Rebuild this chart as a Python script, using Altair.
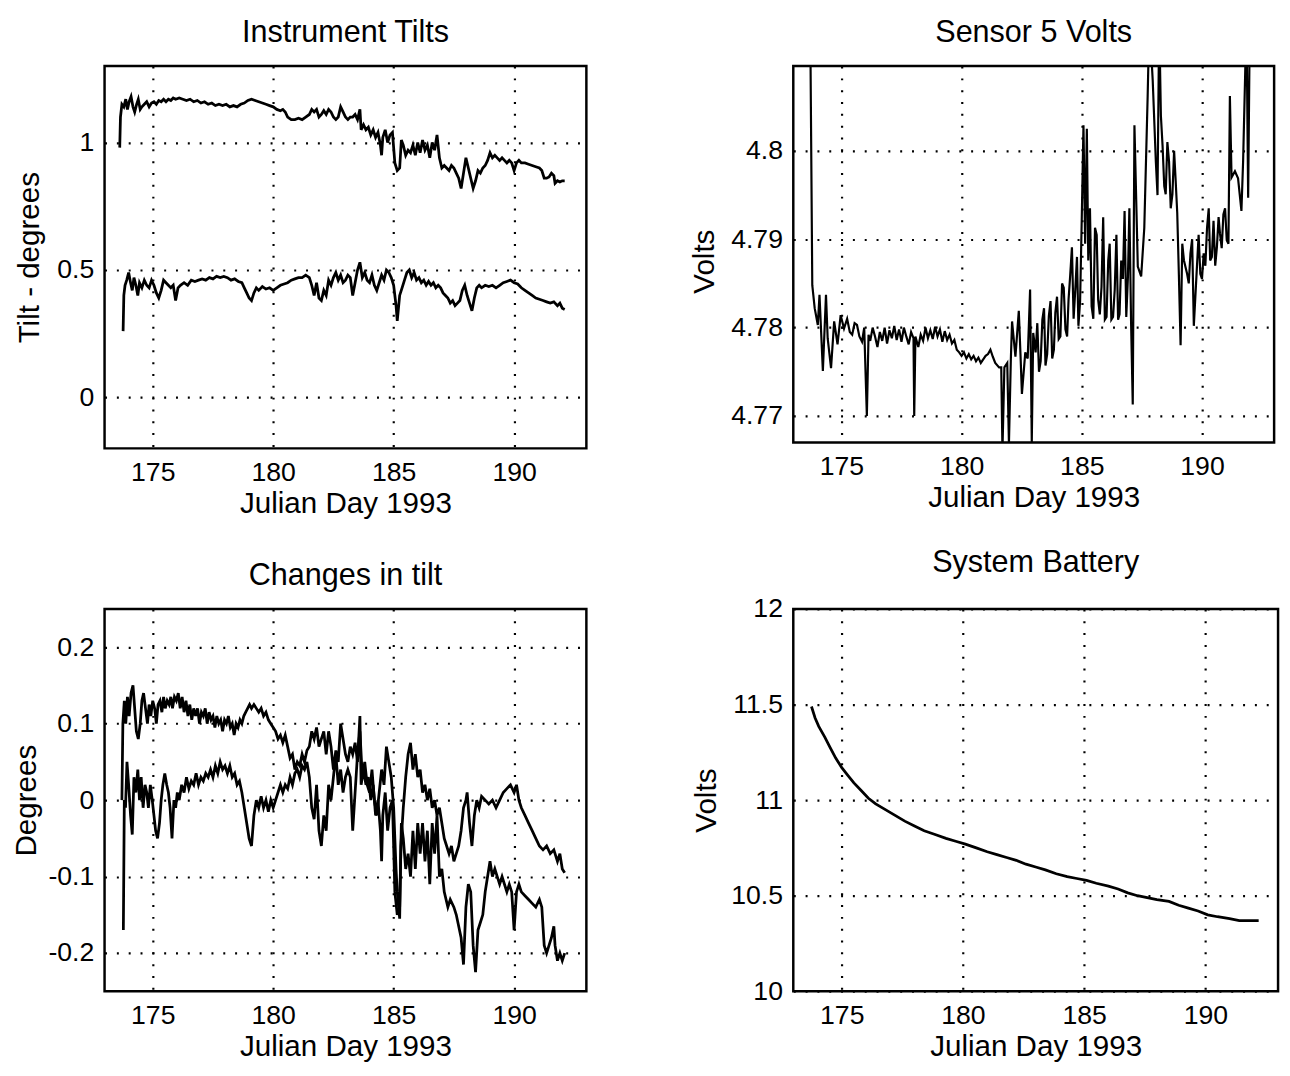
import altair as alt
import pandas as pd

FONT = "Liberation Sans"
X_TICKS = [175, 180, 185, 190]
X_TITLE = "Julian Day 1993"

# Instrument Tilts: upper and lower traces (day, degrees)
TILT_UPPER = [
    (173.63, 0.98), (173.66, 1.10), (173.72, 1.15), (173.80, 1.14), (173.88, 1.17), (173.95, 1.13),
    (174.02, 1.16), (174.10, 1.18), (174.18, 1.14), (174.25, 1.12), (174.33, 1.15), (174.40, 1.17),
    (174.48, 1.13), (174.55, 1.14), (174.65, 1.15), (174.75, 1.16), (174.85, 1.14), (174.95, 1.155),
    (175.05, 1.16), (175.15, 1.15), (175.25, 1.165), (175.35, 1.16), (175.45, 1.17), (175.55, 1.16),
    (175.65, 1.17), (175.75, 1.165), (175.85, 1.175), (175.95, 1.17), (176.10, 1.175), (176.25, 1.17),
    (176.40, 1.165), (176.55, 1.17), (176.70, 1.16), (176.85, 1.165), (177.00, 1.155), (177.15, 1.16),
    (177.30, 1.15), (177.45, 1.155), (177.60, 1.145), (177.75, 1.15), (177.90, 1.145), (178.05, 1.15),
    (178.20, 1.14), (178.35, 1.145), (178.50, 1.14), (178.65, 1.15), (178.80, 1.155), (178.95, 1.165),
    (179.10, 1.17), (179.25, 1.165), (179.40, 1.16), (179.55, 1.155), (179.70, 1.15), (179.85, 1.145),
    (180.00, 1.14), (180.15, 1.13), (180.30, 1.125), (180.40, 1.13), (180.50, 1.12), (180.60, 1.10),
    (180.75, 1.09), (180.90, 1.09), (181.05, 1.095), (181.20, 1.09), (181.35, 1.10), (181.50, 1.11),
    (181.60, 1.13), (181.70, 1.12), (181.80, 1.13), (181.90, 1.10), (182.00, 1.11), (182.10, 1.125),
    (182.20, 1.11), (182.30, 1.13), (182.40, 1.12), (182.50, 1.10), (182.60, 1.09), (182.70, 1.10),
    (182.80, 1.14), (182.90, 1.12), (183.00, 1.10), (183.10, 1.09), (183.20, 1.10), (183.30, 1.10),
    (183.40, 1.11), (183.50, 1.09), (183.60, 1.13), (183.65, 1.05), (183.75, 1.07), (183.85, 1.05),
    (183.95, 1.06), (184.05, 1.03), (184.15, 1.05), (184.25, 1.02), (184.35, 1.04), (184.45, 0.99),
    (184.50, 0.95), (184.55, 1.02), (184.65, 1.05), (184.75, 1.00), (184.85, 1.03), (184.95, 1.04),
    (185.05, 0.92), (185.15, 0.89), (185.25, 0.90), (185.32, 1.01), (185.40, 0.99), (185.50, 0.95),
    (185.60, 0.97), (185.70, 0.96), (185.80, 0.99), (185.90, 0.95), (186.00, 1.00), (186.10, 0.96),
    (186.20, 1.01), (186.30, 0.97), (186.40, 0.99), (186.50, 0.94), (186.60, 1.00), (186.70, 0.97),
    (186.80, 1.03), (186.90, 0.94), (187.00, 0.90), (187.10, 0.91), (187.20, 0.90), (187.30, 0.89),
    (187.40, 0.91), (187.50, 0.90), (187.60, 0.88), (187.70, 0.86), (187.80, 0.82), (187.90, 0.88),
    (188.00, 0.94), (188.10, 0.90), (188.20, 0.86), (188.30, 0.82), (188.40, 0.85), (188.50, 0.89),
    (188.60, 0.88), (188.70, 0.90), (188.80, 0.91), (188.90, 0.93), (189.00, 0.96), (189.10, 0.94),
    (189.20, 0.95), (189.30, 0.94), (189.40, 0.93), (189.50, 0.94), (189.60, 0.93), (189.70, 0.92),
    (189.80, 0.93), (189.90, 0.92), (190.00, 0.89), (190.10, 0.92), (190.20, 0.93), (190.30, 0.92),
    (190.45, 0.92), (190.60, 0.915), (190.75, 0.91), (190.90, 0.905), (191.05, 0.90), (191.15, 0.89),
    (191.25, 0.86), (191.35, 0.86), (191.45, 0.865), (191.55, 0.88), (191.65, 0.87), (191.70, 0.84),
    (191.80, 0.85), (191.90, 0.845), (192.00, 0.85), (192.10, 0.85),
]

TILT_LOWER = [
    (173.77, 0.26), (173.80, 0.40), (173.85, 0.44), (173.92, 0.46), (174.00, 0.49), (174.08, 0.45),
    (174.15, 0.42), (174.22, 0.47), (174.30, 0.44), (174.38, 0.40), (174.45, 0.45), (174.55, 0.43),
    (174.65, 0.46), (174.75, 0.44), (174.85, 0.43), (174.95, 0.46), (175.05, 0.44), (175.15, 0.41),
    (175.25, 0.39), (175.35, 0.42), (175.45, 0.46), (175.55, 0.45), (175.65, 0.44), (175.75, 0.43),
    (175.85, 0.44), (175.95, 0.38), (176.05, 0.43), (176.15, 0.44), (176.30, 0.45), (176.45, 0.44),
    (176.60, 0.46), (176.75, 0.455), (176.90, 0.46), (177.05, 0.465), (177.20, 0.46), (177.35, 0.47),
    (177.50, 0.465), (177.65, 0.475), (177.80, 0.47), (177.95, 0.475), (178.10, 0.47), (178.25, 0.46),
    (178.40, 0.465), (178.55, 0.455), (178.70, 0.45), (178.80, 0.43), (178.90, 0.41), (179.00, 0.39),
    (179.10, 0.38), (179.20, 0.41), (179.30, 0.43), (179.40, 0.42), (179.55, 0.435), (179.70, 0.425),
    (179.85, 0.43), (180.00, 0.42), (180.15, 0.43), (180.30, 0.44), (180.45, 0.445), (180.60, 0.45),
    (180.75, 0.46), (180.90, 0.465), (181.05, 0.47), (181.20, 0.47), (181.35, 0.48), (181.50, 0.47),
    (181.60, 0.44), (181.70, 0.40), (181.80, 0.45), (181.90, 0.39), (182.00, 0.38), (182.10, 0.42),
    (182.20, 0.40), (182.30, 0.46), (182.40, 0.44), (182.50, 0.47), (182.60, 0.49), (182.70, 0.46),
    (182.80, 0.48), (182.90, 0.45), (183.00, 0.46), (183.10, 0.48), (183.20, 0.47), (183.30, 0.40),
    (183.40, 0.45), (183.50, 0.50), (183.60, 0.53), (183.70, 0.47), (183.80, 0.49), (183.90, 0.46),
    (184.00, 0.45), (184.10, 0.48), (184.20, 0.44), (184.30, 0.42), (184.40, 0.45), (184.50, 0.48),
    (184.60, 0.46), (184.70, 0.50), (184.80, 0.49), (184.90, 0.47), (185.00, 0.44), (185.10, 0.36),
    (185.15, 0.30), (185.25, 0.40), (185.35, 0.43), (185.45, 0.46), (185.55, 0.49), (185.65, 0.50),
    (185.75, 0.47), (185.85, 0.49), (185.95, 0.46), (186.05, 0.47), (186.15, 0.45), (186.25, 0.46),
    (186.35, 0.44), (186.45, 0.455), (186.55, 0.44), (186.65, 0.45), (186.75, 0.43), (186.85, 0.44),
    (186.95, 0.43), (187.05, 0.41), (187.15, 0.40), (187.25, 0.39), (187.35, 0.37), (187.45, 0.38),
    (187.55, 0.36), (187.65, 0.37), (187.75, 0.38), (187.85, 0.42), (187.95, 0.44), (188.05, 0.40),
    (188.15, 0.37), (188.25, 0.34), (188.35, 0.39), (188.45, 0.43), (188.55, 0.44), (188.65, 0.43),
    (188.80, 0.44), (188.95, 0.435), (189.10, 0.44), (189.25, 0.43), (189.40, 0.44), (189.55, 0.45),
    (189.70, 0.455), (189.85, 0.46), (190.00, 0.45), (190.15, 0.445), (190.30, 0.43), (190.45, 0.42),
    (190.60, 0.41), (190.75, 0.40), (190.90, 0.39), (191.05, 0.385), (191.20, 0.38), (191.35, 0.375),
    (191.50, 0.37), (191.65, 0.375), (191.80, 0.36), (191.90, 0.37), (192.00, 0.35), (192.10, 0.345),
]

# Sensor 5 Volts (day, volts)
SENSOR5 = [
    (173.66, 4.83), (173.79, 4.7848), (173.89, 4.7822), (174.02, 4.7803), (174.09, 4.7837),
    (174.23, 4.7751), (174.36, 4.7837), (174.43, 4.7788), (174.57, 4.7754), (174.70, 4.7807),
    (174.84, 4.7781), (174.97, 4.7814), (175.11, 4.7799), (175.24, 4.7810), (175.35, 4.7795),
    (175.45, 4.7792), (175.55, 4.7805), (175.65, 4.7803), (175.75, 4.7790), (175.86, 4.7784),
    (175.95, 4.7800), (176.06, 4.7700), (176.13, 4.7792), (176.20, 4.7785), (176.30, 4.7800),
    (176.40, 4.7790), (176.50, 4.7778), (176.60, 4.7795), (176.70, 4.7785), (176.80, 4.7800),
    (176.90, 4.7782), (177.00, 4.7797), (177.10, 4.7788), (177.20, 4.7802), (177.30, 4.7786),
    (177.40, 4.7798), (177.50, 4.7784), (177.60, 4.7800), (177.70, 4.7790), (177.80, 4.7781),
    (177.90, 4.7795), (178.00, 4.7788), (178.03, 4.7700), (178.08, 4.7790), (178.20, 4.7778),
    (178.30, 4.7792), (178.40, 4.7785), (178.50, 4.7800), (178.60, 4.7788), (178.70, 4.7797),
    (178.80, 4.7787), (178.90, 4.7801), (179.00, 4.7790), (179.10, 4.7798), (179.20, 4.7784),
    (179.30, 4.7796), (179.40, 4.7786), (179.50, 4.7792), (179.60, 4.7782), (179.70, 4.7786),
    (179.80, 4.7775), (179.90, 4.7772), (180.00, 4.7768), (180.10, 4.7772), (180.20, 4.7765),
    (180.30, 4.7770), (180.40, 4.7764), (180.50, 4.7768), (180.60, 4.7762), (180.70, 4.7766),
    (180.80, 4.7760), (180.90, 4.7764), (181.00, 4.7768), (181.10, 4.7770), (181.20, 4.7775),
    (181.30, 4.7767), (181.40, 4.7760), (181.56, 4.7755), (181.65, 4.7755), (181.70, 4.7660),
    (181.78, 4.7755), (181.90, 4.7760), (181.97, 4.7668), (182.05, 4.7765), (182.10, 4.7807),
    (182.24, 4.7767), (182.38, 4.7819), (182.45, 4.7770), (182.51, 4.7725), (182.65, 4.7772),
    (182.75, 4.7765), (182.85, 4.7843), (182.92, 4.7670), (182.98, 4.7794), (183.08, 4.7772),
    (183.15, 4.7805), (183.22, 4.7750), (183.29, 4.7762), (183.36, 4.7809), (183.43, 4.7822),
    (183.49, 4.7757), (183.56, 4.7770), (183.63, 4.7813), (183.70, 4.7830), (183.77, 4.7765),
    (183.84, 4.7775), (183.90, 4.7817), (183.97, 4.7835), (184.04, 4.7787), (184.11, 4.7790),
    (184.18, 4.7850), (184.25, 4.7845), (184.32, 4.7798), (184.39, 4.7790), (184.45, 4.7832),
    (184.52, 4.7860), (184.59, 4.7891), (184.66, 4.7810), (184.73, 4.7843), (184.80, 4.7880),
    (184.86, 4.7802), (184.93, 4.7830), (185.00, 4.7925), (185.07, 4.8029), (185.14, 4.7895),
    (185.21, 4.8025), (185.27, 4.7876), (185.34, 4.7935), (185.41, 4.7824), (185.48, 4.7810),
    (185.55, 4.7913), (185.62, 4.7905), (185.68, 4.7832), (185.75, 4.7815), (185.82, 4.7846),
    (185.89, 4.7925), (185.96, 4.7809), (186.03, 4.7812), (186.10, 4.7876), (186.16, 4.7895),
    (186.23, 4.7809), (186.30, 4.7812), (186.37, 4.7843), (186.44, 4.7905), (186.51, 4.7809),
    (186.57, 4.7815), (186.64, 4.7876), (186.71, 4.7855), (186.78, 4.7932), (186.85, 4.7812),
    (186.92, 4.7858), (186.98, 4.7935), (187.05, 4.7806), (187.12, 4.7713), (187.19, 4.8029),
    (187.33, 4.7869), (187.47, 4.7858), (187.60, 4.7913), (187.74, 4.8062), (187.81, 4.8150),
    (187.95, 4.8080), (188.08, 4.7988), (188.15, 4.7950), (188.22, 4.8150), (188.29, 4.8040),
    (188.36, 4.8006), (188.43, 4.7960), (188.49, 4.7951), (188.56, 4.8010), (188.63, 4.7988),
    (188.70, 4.7935), (188.77, 4.7951), (188.84, 4.8000), (188.90, 4.7969), (188.97, 4.7930),
    (189.04, 4.7858), (189.11, 4.7780), (189.18, 4.7895), (189.25, 4.7876), (189.38, 4.7861),
    (189.45, 4.7850), (189.52, 4.7884), (189.59, 4.7900), (189.66, 4.7802), (189.79, 4.7869),
    (189.86, 4.7905), (189.93, 4.7861), (190.00, 4.7855), (190.07, 4.7884), (190.14, 4.7870),
    (190.21, 4.7913), (190.28, 4.7935), (190.34, 4.7876), (190.41, 4.7880), (190.48, 4.7921),
    (190.55, 4.7870), (190.62, 4.7891), (190.69, 4.7925), (190.75, 4.7906), (190.82, 4.7890),
    (190.89, 4.7928), (190.96, 4.7935), (191.03, 4.7899), (191.10, 4.7895), (191.16, 4.8062),
    (191.23, 4.7970), (191.37, 4.7977), (191.50, 4.7969), (191.64, 4.7932), (191.71, 4.7988),
    (191.85, 4.8150), (191.92, 4.7947), (191.99, 4.8150),
]

# Changes in tilt (day, degrees)
CHANGE_A = [
    (173.72, 0.0), (173.76, 0.10), (173.82, 0.13), (173.88, 0.10), (173.95, 0.135), (174.02, 0.11),
    (174.10, 0.14), (174.18, 0.15), (174.25, 0.12), (174.32, 0.09), (174.40, 0.08), (174.48, 0.10),
    (174.55, 0.13), (174.62, 0.14), (174.70, 0.12), (174.78, 0.10), (174.85, 0.125), (174.92, 0.11),
    (175.00, 0.13), (175.08, 0.12), (175.15, 0.10), (175.22, 0.125), (175.30, 0.13), (175.38, 0.115),
    (175.45, 0.135), (175.52, 0.12), (175.60, 0.13), (175.68, 0.125), (175.75, 0.135), (175.82, 0.12),
    (175.90, 0.135), (175.98, 0.13), (176.06, 0.14), (176.14, 0.12), (176.22, 0.135), (176.30, 0.115),
    (176.38, 0.13), (176.46, 0.11), (176.54, 0.125), (176.62, 0.105), (176.70, 0.12), (176.78, 0.11),
    (176.86, 0.12), (176.94, 0.10), (177.02, 0.115), (177.10, 0.11), (177.18, 0.12), (177.26, 0.10),
    (177.34, 0.115), (177.42, 0.105), (177.50, 0.11), (177.58, 0.095), (177.66, 0.11), (177.74, 0.10),
    (177.82, 0.105), (177.90, 0.09), (177.98, 0.105), (178.06, 0.10), (178.14, 0.11), (178.22, 0.095),
    (178.30, 0.10), (178.38, 0.085), (178.46, 0.10), (178.54, 0.095), (178.62, 0.105), (178.70, 0.10),
    (178.78, 0.11), (178.86, 0.115), (178.94, 0.12), (179.02, 0.125), (179.10, 0.12), (179.20, 0.125),
    (179.30, 0.12), (179.40, 0.115), (179.50, 0.12), (179.60, 0.11), (179.70, 0.115), (179.80, 0.105),
    (179.90, 0.10), (180.00, 0.095), (180.10, 0.09), (180.20, 0.08), (180.30, 0.085), (180.40, 0.075),
    (180.50, 0.085), (180.60, 0.07), (180.70, 0.055), (180.80, 0.06), (180.90, 0.04), (181.00, 0.05),
    (181.10, 0.045), (181.20, 0.06), (181.30, 0.05), (181.40, 0.065), (181.50, 0.07), (181.60, 0.09),
    (181.70, 0.08), (181.80, 0.095), (181.90, 0.07), (182.00, 0.08), (182.10, 0.09), (182.20, 0.06),
    (182.30, 0.09), (182.40, 0.07), (182.50, 0.04), (182.60, 0.065), (182.70, 0.05), (182.80, 0.10),
    (182.90, 0.08), (183.00, 0.06), (183.10, 0.05), (183.20, 0.07), (183.30, 0.06), (183.40, 0.075),
    (183.50, 0.05), (183.60, 0.11), (183.65, 0.02), (183.75, 0.04), (183.85, 0.02), (183.95, 0.03),
    (184.05, 0.0), (184.15, 0.02), (184.25, -0.02), (184.35, 0.0), (184.45, -0.04), (184.50, -0.08),
    (184.55, -0.02), (184.65, 0.01), (184.75, -0.04), (184.85, -0.01), (184.95, 0.0), (185.05, -0.12),
    (185.15, -0.15), (185.25, -0.14), (185.32, -0.03), (185.40, -0.05), (185.50, -0.09), (185.60, -0.07),
    (185.70, -0.10), (185.80, -0.04), (185.90, -0.09), (186.00, -0.03), (186.10, -0.07), (186.20, -0.03),
    (186.30, -0.08), (186.40, -0.04), (186.50, -0.11), (186.60, -0.03), (186.70, -0.07), (186.80, -0.02),
    (186.90, -0.10), (187.00, -0.09), (187.10, -0.12), (187.25, -0.14), (187.35, -0.13), (187.50, -0.14),
    (187.60, -0.15), (187.70, -0.165), (187.80, -0.18), (187.90, -0.215), (188.00, -0.14), (188.10, -0.11),
    (188.20, -0.12), (188.30, -0.19), (188.40, -0.225), (188.50, -0.17), (188.60, -0.16), (188.70, -0.15),
    (188.80, -0.12), (188.90, -0.10), (189.00, -0.08), (189.10, -0.10), (189.20, -0.09), (189.30, -0.10),
    (189.40, -0.11), (189.50, -0.10), (189.60, -0.11), (189.70, -0.12), (189.80, -0.11), (189.90, -0.12),
    (190.00, -0.17), (190.10, -0.12), (190.20, -0.11), (190.30, -0.12), (190.45, -0.125), (190.60, -0.13),
    (190.75, -0.135), (190.90, -0.14), (191.05, -0.13), (191.15, -0.14), (191.25, -0.19), (191.35, -0.20),
    (191.45, -0.19), (191.55, -0.18), (191.65, -0.165), (191.70, -0.19), (191.80, -0.21), (191.90, -0.20),
    (192.00, -0.21), (192.10, -0.20),
]

CHANGE_B = [
    (173.78, -0.17), (173.82, 0.0), (173.87, -0.01), (173.93, 0.05), (174.00, 0.02), (174.08, -0.02),
    (174.15, -0.045), (174.22, 0.03), (174.30, 0.01), (174.38, 0.04), (174.45, 0.0), (174.52, 0.03),
    (174.60, -0.01), (174.68, 0.02), (174.75, 0.01), (174.82, -0.01), (174.90, 0.02), (174.98, 0.0),
    (175.05, -0.02), (175.12, -0.04), (175.20, -0.05), (175.28, -0.03), (175.35, 0.0), (175.42, 0.02),
    (175.50, 0.035), (175.58, 0.02), (175.65, 0.01), (175.72, -0.01), (175.80, -0.05), (175.88, 0.0),
    (175.95, -0.01), (176.02, 0.01), (176.10, 0.0), (176.20, 0.02), (176.30, 0.01), (176.40, 0.03),
    (176.50, 0.015), (176.60, 0.025), (176.70, 0.02), (176.80, 0.035), (176.90, 0.02), (177.00, 0.03),
    (177.10, 0.025), (177.20, 0.035), (177.30, 0.03), (177.40, 0.04), (177.50, 0.03), (177.60, 0.045),
    (177.70, 0.035), (177.80, 0.05), (177.90, 0.04), (178.00, 0.045), (178.10, 0.035), (178.20, 0.045),
    (178.30, 0.03), (178.40, 0.035), (178.50, 0.02), (178.60, 0.025), (178.70, 0.01), (178.80, -0.01),
    (178.90, -0.03), (179.00, -0.05), (179.10, -0.06), (179.20, -0.02), (179.30, 0.0), (179.40, -0.01),
    (179.50, 0.005), (179.60, -0.01), (179.70, 0.0), (179.80, -0.015), (179.90, 0.0), (180.00, -0.01),
    (180.10, 0.0), (180.20, 0.01), (180.30, 0.02), (180.40, 0.01), (180.50, 0.02), (180.60, 0.015),
    (180.70, 0.03), (180.80, 0.02), (180.90, 0.035), (181.00, 0.04), (181.10, 0.03), (181.20, 0.045),
    (181.30, 0.04), (181.40, 0.05), (181.50, 0.03), (181.60, -0.01), (181.70, -0.025), (181.80, 0.02),
    (181.90, -0.04), (182.00, -0.06), (182.10, -0.02), (182.20, -0.04), (182.30, 0.02), (182.40, 0.0),
    (182.50, 0.03), (182.60, 0.06), (182.70, 0.02), (182.80, 0.04), (182.90, 0.01), (183.00, 0.03),
    (183.10, 0.04), (183.20, 0.03), (183.30, -0.04), (183.40, 0.01), (183.50, 0.06), (183.60, 0.09),
    (183.70, 0.03), (183.80, 0.05), (183.90, 0.02), (184.00, 0.01), (184.10, 0.04), (184.20, 0.0),
    (184.30, -0.02), (184.40, 0.01), (184.50, 0.04), (184.60, 0.02), (184.70, 0.07), (184.80, 0.05),
    (184.90, 0.03), (185.00, -0.01), (185.10, -0.09), (185.15, -0.12), (185.25, -0.155), (185.30, -0.06),
    (185.40, -0.01), (185.50, 0.03), (185.60, 0.06), (185.70, 0.075), (185.80, 0.04), (185.90, 0.06),
    (186.00, 0.03), (186.10, 0.04), (186.20, 0.01), (186.30, 0.02), (186.40, 0.0), (186.50, 0.015),
    (186.60, -0.01), (186.70, 0.0), (186.80, -0.02), (186.90, -0.01), (187.00, -0.03), (187.10, -0.05),
    (187.20, -0.06), (187.30, -0.07), (187.40, -0.06), (187.50, -0.08), (187.60, -0.07), (187.70, -0.06),
    (187.80, -0.04), (187.90, -0.01), (188.00, 0.0), (188.05, 0.01), (188.15, -0.03), (188.25, -0.06),
    (188.35, -0.02), (188.45, 0.0), (188.55, -0.01), (188.65, 0.005), (188.80, 0.0), (188.95, -0.005),
    (189.10, 0.0), (189.25, -0.01), (189.40, 0.0), (189.55, 0.01), (189.70, 0.015), (189.85, 0.02),
    (190.00, 0.01), (190.10, 0.02), (190.20, 0.0), (190.30, -0.01), (190.45, -0.02), (190.60, -0.03),
    (190.75, -0.04), (190.90, -0.05), (191.05, -0.06), (191.20, -0.065), (191.35, -0.06), (191.50, -0.07),
    (191.65, -0.065), (191.80, -0.08), (191.90, -0.07), (192.00, -0.09), (192.10, -0.095),
]

# System Battery
BATTERY_DAY = [173.75, 173.9, 174.05, 174.3, 174.5, 174.75, 175.0, 175.25, 175.5, 175.8,
               176.1, 176.4, 176.8, 177.2, 177.6, 178.0, 178.4, 178.85, 179.3, 179.7,
               180.1, 180.55, 181.0, 181.4, 181.8, 182.2, 182.6, 183.0, 183.4, 183.85,
               184.3, 184.7, 185.1, 185.5, 186.0, 186.4, 186.8, 187.2, 187.6, 188.0,
               188.5, 188.9, 189.3, 189.7, 190.1, 190.5, 191.0, 191.4, 191.8, 192.2]
BATTERY_VOLT = [11.49, 11.43, 11.386, 11.33, 11.28, 11.22, 11.17, 11.13, 11.09, 11.05,
                11.01, 10.98, 10.95, 10.92, 10.89, 10.865, 10.84, 10.82, 10.80, 10.785,
                10.77, 10.75, 10.73, 10.715, 10.70, 10.685, 10.665, 10.65, 10.635, 10.615,
                10.60, 10.59, 10.58, 10.565, 10.55, 10.535, 10.515, 10.50, 10.49, 10.48,
                10.47, 10.45, 10.435, 10.42, 10.40, 10.39, 10.38, 10.37, 10.37, 10.37]


def frame(pairs, name):
    return pd.DataFrame({"day": [p[0] for p in pairs],
                         "value": [p[1] for p in pairs],
                         "series": name})


LABEL_EXPR = "datum.value < 0 ? '-' + format(-datum.value, '~g') : format(datum.value, '~g')"


def panel(df, title, ydom, yticks, ytitle, w, h, ytx, yty=None, stroke=2.8):
    common = dict(grid=True, gridDash=[2, 10], gridColor="black", gridWidth=2.2, gridOpacity=1,
                  ticks=False, domain=False, labelFont=FONT, titleFont=FONT,
                  labelFontSize=27, titleFontSize=30, titleFontWeight="normal",
                  labelColor="black", titleColor="black", labelFlush=False,
                  titleBaseline="middle", titleAlign="center")
    xaxis = alt.Axis(values=X_TICKS, title=X_TITLE, labelPadding=12,
                     titleX=w / 2, titleY=56, **common)
    yaxis = alt.Axis(values=yticks, title=ytitle, labelPadding=11, labelExpr=LABEL_EXPR,
                     titleX=ytx, titleY=(h / 2 if yty is None else yty), titleAngle=270,
                     **common)
    return alt.Chart(df).mark_line(color="black", strokeWidth=stroke, clip=True).encode(
        x=alt.X("day:Q", scale=alt.Scale(domain=[173, 193], nice=False, zero=False), axis=xaxis),
        y=alt.Y("value:Q", scale=alt.Scale(domain=ydom, nice=False, zero=False), axis=yaxis),
        detail="series:N",
    ).properties(
        width=w, height=h,
        view=alt.ViewBackground(stroke="black", strokeWidth=2.5),
        title=alt.TitleParams(title, fontSize=31, font=FONT, fontWeight="normal", color="black",
                              offset=-7, baseline="alphabetic", anchor="middle"),
    )


p1 = panel(pd.concat([frame(TILT_UPPER, "upper"), frame(TILT_LOWER, "lower")]),
           "Instrument Tilts", [-0.2, 1.3], [0, 0.5, 1], "Tilt - degrees", 489, 388, -76)
p2 = panel(frame(SENSOR5, "s5"), "Sensor 5 Volts", [4.767, 4.8096], [4.77, 4.78, 4.79, 4.8],
           "Volts", 488, 382, -90, 198, stroke=2.2)
p3 = panel(pd.concat([frame(CHANGE_A, "a"), frame(CHANGE_B, "b")]),
           "Changes in tilt", [-0.25, 0.25], [-0.2, -0.1, 0, 0.1, 0.2], "Degrees", 489, 388, -79)
p4 = panel(pd.DataFrame({"day": BATTERY_DAY, "value": BATTERY_VOLT, "series": "bat"}),
           "System Battery", [10, 12], [10, 10.5, 11, 11.5, 12], "Volts", 492, 388, -88)

chart = alt.concat(p1, p2, p3, p4, columns=2, bounds="flush",
                   spacing={"row": 163, "column": 210}).properties(
    padding={"left": 2, "top": 0, "right": 2, "bottom": 2}
)

chart.save("out.html", embed_options={"renderer": "svg", "actions": False})
